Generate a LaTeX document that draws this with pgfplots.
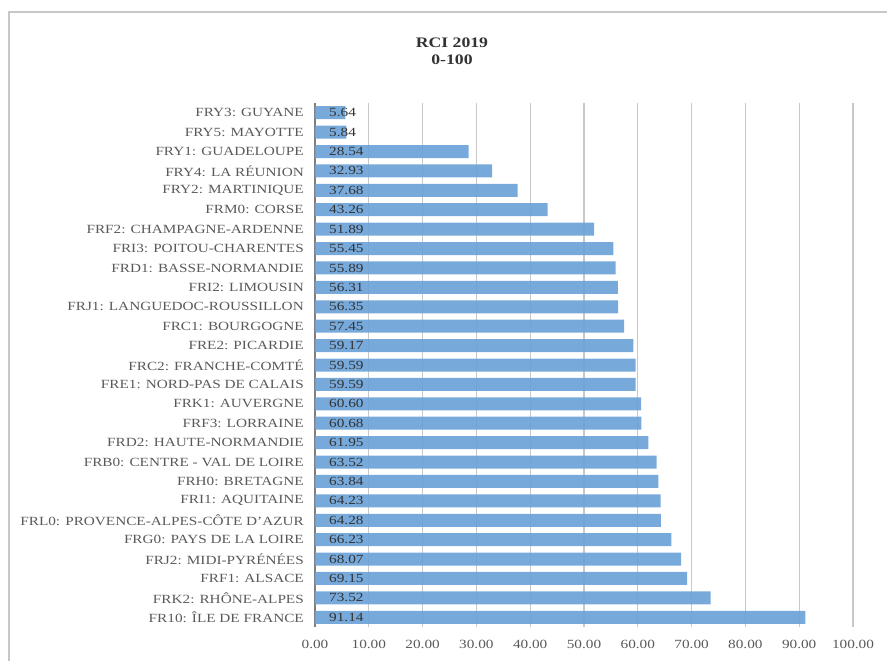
\documentclass[border=0pt]{standalone}
\usepackage{fontspec}
\setmainfont{Liberation Serif}[FakeStretch=1.22]
\usepackage{pgfplots}
\usepackage{pgfplotstable}
\pgfplotsset{compat=1.18}
\definecolor{barblue}{HTML}{6BA2D8}
\definecolor{labgray}{HTML}{595959}
\definecolor{gridgray}{HTML}{C8C8C8}
\definecolor{axgray}{HTML}{7F7F7F}
\definecolor{framegray}{HTML}{C8C8C8}
\definecolor{valtext}{HTML}{333333}

\pgfplotstableread[col sep=comma]{
idx,label,value
0,FRY3: GUYANE,5.64
1,FRY5: MAYOTTE,5.84
2,FRY1: GUADELOUPE,28.54
3,FRY4: LA RÉUNION,32.93
4,FRY2: MARTINIQUE,37.68
5,FRM0: CORSE,43.26
6,FRF2: CHAMPAGNE-ARDENNE,51.89
7,FRI3: POITOU-CHARENTES,55.45
8,FRD1: BASSE-NORMANDIE,55.89
9,FRI2: LIMOUSIN,56.31
10,FRJ1: LANGUEDOC-ROUSSILLON,56.35
11,FRC1: BOURGOGNE,57.45
12,FRE2: PICARDIE,59.17
13,FRC2: FRANCHE-COMTÉ,59.59
14,FRE1: NORD-PAS DE CALAIS,59.59
15,FRK1: AUVERGNE,60.60
16,FRF3: LORRAINE,60.68
17,FRD2: HAUTE-NORMANDIE,61.95
18,FRB0: CENTRE - VAL DE LOIRE,63.52
19,FRH0: BRETAGNE,63.84
20,FRI1: AQUITAINE,64.23
21,FRL0: PROVENCE-ALPES-CÔTE D’AZUR,64.28
22,FRG0: PAYS DE LA LOIRE,66.23
23,FRJ2: MIDI-PYRÉNÉES,68.07
24,FRF1: ALSACE,69.15
25,FRK2: RHÔNE-ALPES,73.52
26,FR10: ÎLE DE FRANCE,91.14
}\rcidata

\begin{document}
\begin{tikzpicture}
\path[use as bounding box] (-315pt,-34pt) rectangle (572pt,627pt);
\begin{axis}[
  name=ax,
  at={(0pt,0pt)}, anchor=south west,
  scale only axis,
  width=538pt, height=524pt,
  xmin=0, xmax=100,
  ymin=-0.5, ymax=26.5,
  y dir=reverse,
  enlarge y limits=false,
  xtick={0,10,...,100},
  ytick={0,1,...,26},
  yticklabels from table={\rcidata}{label},
  /pgf/number format/assume math mode=true,
  xticklabel={\pgfmathprintnumber[fixed,fixed zerofill,precision=2]{\tick}},
  xticklabel style={inner sep=0pt, anchor=north, yshift=-13pt, text=labgray, font=\fontsize{12.5}{14}\selectfont},
  yticklabel style={inner sep=0pt, anchor=east, xshift=-11pt, text=labgray, font=\fontsize{12.5}{14}\selectfont},
  axis x line*=bottom,
  axis y line*=left,
  x axis line style={draw=none},
  y axis line style={draw=axgray, line width=2pt},
  xtick style={draw=none},
  ytick style={draw=none},
  xmajorgrids,
  major grid style={draw=gridgray, line width=1.2pt},
  bar width=13pt,
  clip=false,
]
\addplot[xbar, fill=barblue, draw=none, fill opacity=0.92] table[x=value, y=idx] {\rcidata};
\addplot[draw=none, mark=none, point meta=explicit,
  nodes near coords={\pgfmathprintnumber[fixed,fixed zerofill,precision=2]{\pgfplotspointmeta}},
  every node near coord/.append style={anchor=west, inner sep=0pt, xshift=14pt, text=valtext, font=\fontsize{12.5}{14}\selectfont}]
  table[x expr=0, y=idx, meta=value] {\rcidata};
\end{axis}
\draw[framegray, line width=1.5pt] (-306pt,-60pt) -- (-306pt,615pt) -- (620pt,615pt);
\node[font=\bfseries\fontsize{14.5}{17}\selectfont, text=black!80, align=center] at (137pt,576pt) {RCI 2019\\0-100};
\end{tikzpicture}
\end{document}
